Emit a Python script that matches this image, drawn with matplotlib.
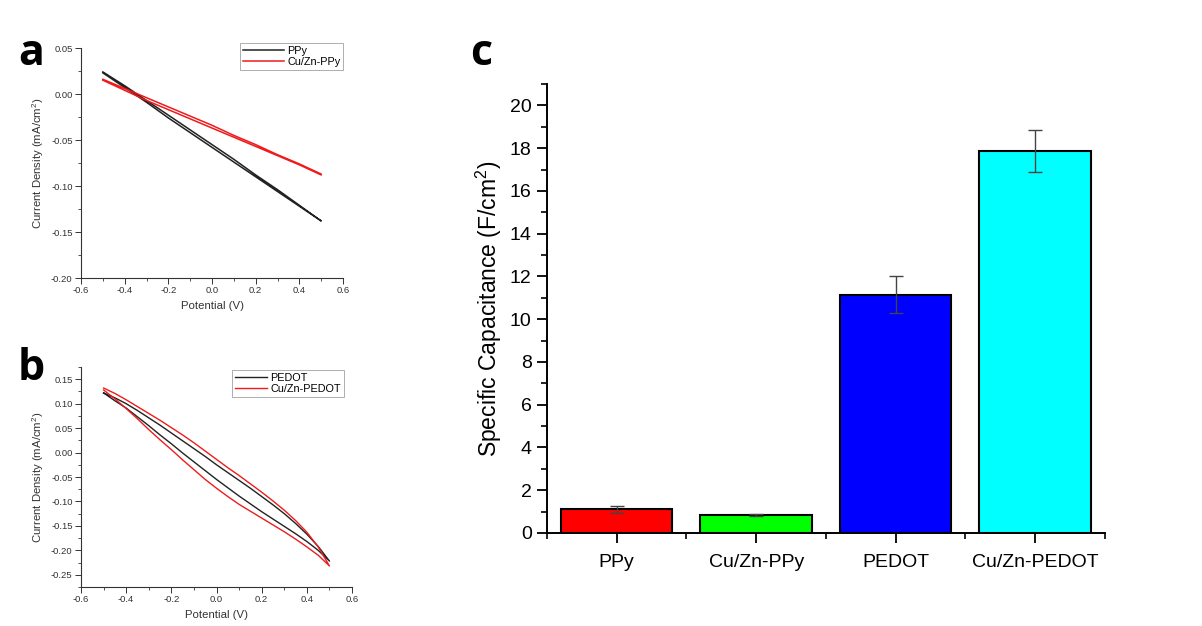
import matplotlib
matplotlib.use("Agg")
import matplotlib.pyplot as plt
from matplotlib.ticker import MultipleLocator, FixedLocator

plt.rcParams['font.family'] = ['Liberation Sans', 'DejaVu Sans']
plt.rcParams['mathtext.fontset'] = 'custom'
plt.rcParams['mathtext.rm'] = 'Liberation Sans'

# ---- data ----
potential_a = [-0.5, -0.4, -0.3, -0.2, -0.1, 0.0, 0.1, 0.2, 0.3, 0.4, 0.5]

# panel a (PPy films), two scan branches each
ppy_upper = [0.024, 0.009, -0.007, -0.023, -0.039, -0.055, -0.071, -0.088, -0.104, -0.121, -0.138]
ppy_lower = [0.023, 0.007, -0.009, -0.026, -0.042, -0.058, -0.074, -0.090, -0.106, -0.122, -0.138]
cuzn_ppy_upper = [0.016, 0.006, -0.004, -0.014, -0.024, -0.034, -0.045, -0.055, -0.066, -0.076, -0.087]
cuzn_ppy_lower = [0.015, 0.004, -0.007, -0.017, -0.027, -0.037, -0.047, -0.057, -0.067, -0.077, -0.088]

# panel b (PEDOT films), finer steps because the loops are curved
potential_b = [-0.5, -0.45, -0.4, -0.35, -0.3, -0.25, -0.2, -0.15, -0.1, -0.05, 0.0,
               0.05, 0.1, 0.15, 0.2, 0.25, 0.3, 0.35, 0.4, 0.45, 0.5]
pedot_upper = [0.122, 0.112, 0.100, 0.086, 0.071, 0.056, 0.040, 0.024, 0.008, -0.008, -0.025,
               -0.041, -0.057, -0.073, -0.090, -0.107, -0.125, -0.145, -0.167, -0.192, -0.222]
pedot_lower = [0.122, 0.106, 0.091, 0.073, 0.055, 0.036, 0.018, -0.001, -0.019, -0.037, -0.055,
               -0.072, -0.089, -0.105, -0.121, -0.136, -0.151, -0.166, -0.182, -0.200, -0.222]
cuzn_pedot_upper = [0.132, 0.121, 0.108, 0.094, 0.080, 0.066, 0.051, 0.036, 0.020, 0.003, -0.014,
                    -0.031, -0.047, -0.064, -0.081, -0.099, -0.118, -0.139, -0.163, -0.193, -0.232]
cuzn_pedot_lower = [0.128, 0.110, 0.090, 0.069, 0.047, 0.026, 0.006, -0.015, -0.035, -0.055, -0.073,
                    -0.090, -0.106, -0.120, -0.134, -0.148, -0.162, -0.177, -0.193, -0.210, -0.232]

# panel c (bar chart)
materials = ['PPy', 'Cu/Zn-PPy', 'PEDOT', 'Cu/Zn-PEDOT']
capacitance = [1.1, 0.85, 11.15, 17.87]
cap_err = [0.15, 0.05, 0.87, 1.0]
bar_colors = ['#ff0000', '#00ff00', '#0000ff', '#00ffff']


def loop(pot, upper, lower):
    # forward scan along the lower branch, back along the upper one
    xs = pot + pot[::-1]
    ys = lower + upper[::-1]
    return xs, ys


def style_cv(ax, ymin, ymax):
    for s in ['top', 'right']:
        ax.spines[s].set_visible(False)
    for s in ['left', 'bottom']:
        ax.spines[s].set_linewidth(0.8)
        ax.spines[s].set_color('#333333')
    ax.set_xlim(-0.6, 0.6)
    ax.set_ylim(ymin, ymax)
    ax.xaxis.set_major_locator(MultipleLocator(0.2))
    ax.xaxis.set_minor_locator(MultipleLocator(0.1))
    ax.yaxis.set_major_locator(MultipleLocator(0.05))
    ax.yaxis.set_minor_locator(MultipleLocator(0.025))
    ax.tick_params(which='major', direction='out', length=4, width=0.7, labelsize=6.8,
                   colors='#333333', pad=2)
    ax.tick_params(which='minor', direction='out', length=2, width=0.6, colors='#333333')
    ax.yaxis.set_major_formatter(plt.FormatStrFormatter('%.2f'))
    ax.xaxis.set_major_formatter(plt.FormatStrFormatter('%.1f'))
    ax.set_xlabel('Potential (V)', fontsize=8.2, color='#333333', labelpad=4)
    ax.set_ylabel('Current Density (mA/cm$^2$)', fontsize=8.2, color='#333333', labelpad=4)


def cv_legend(ax, x0, y0, hl):
    leg = ax.legend(loc='upper left', bbox_to_anchor=(x0 / 1202, 1 - y0 / 626),
                    bbox_transform=fig.transFigure, fontsize=7.8, frameon=True, fancybox=False,
                    handlelength=hl, handletextpad=0.3, borderpad=0.25, labelspacing=0.1,
                    borderaxespad=0)
    leg.get_frame().set_edgecolor('#999999')
    leg.get_frame().set_linewidth(0.7)


fig = plt.figure(figsize=(12.02, 6.26), dpi=100)

# ---- panel a ----
ax_a = fig.add_axes([0.0674, 0.5559, 0.218, 0.3674])
x, y = loop(potential_a, ppy_upper, ppy_lower)
ax_a.plot(x, y, color='#222222', lw=1.1, label='PPy')
x, y = loop(potential_a, cuzn_ppy_upper, cuzn_ppy_lower)
ax_a.plot(x, y, color='#ee1c1c', lw=1.1, label='Cu/Zn-PPy')
style_cv(ax_a, -0.2, 0.05)
cv_legend(ax_a, 240, 43, 3.8)

# ---- panel b ----
ax_b = fig.add_axes([0.0674, 0.0623, 0.2255, 0.3514])
x, y = loop(potential_b, pedot_upper, pedot_lower)
ax_b.plot(x, y, color='#222222', lw=1.0, label='PEDOT')
x, y = loop(potential_b, cuzn_pedot_upper, cuzn_pedot_lower)
ax_b.plot(x, y, color='#ee1c1c', lw=1.0, label='Cu/Zn-PEDOT')
style_cv(ax_b, -0.275, 0.175)
cv_legend(ax_b, 232, 370, 3.0)

# ---- panel c ----
ax_c = fig.add_axes([0.455, 0.1486, 0.4642, 0.7172])
pos = range(len(materials))
ax_c.bar(pos, capacitance, width=0.8, color=bar_colors, edgecolor='black', linewidth=1.5, zorder=2)
ax_c.errorbar(pos, capacitance, yerr=cap_err, fmt='none', ecolor='#444444', elinewidth=1.0,
              capsize=5, capthick=1.0, zorder=3)
for s in ['top', 'right']:
    ax_c.spines[s].set_visible(False)
for s in ['left', 'bottom']:
    ax_c.spines[s].set_linewidth(1.4)
ax_c.set_xlim(-0.5, 3.5)
ax_c.set_ylim(0, 21)
ax_c.yaxis.set_major_locator(MultipleLocator(2))
ax_c.yaxis.set_minor_locator(MultipleLocator(1))
ax_c.set_xticks(list(pos))
ax_c.set_xticklabels(materials)
ax_c.xaxis.set_minor_locator(FixedLocator([-0.5, 0.5, 1.5, 2.5, 3.5]))
ax_c.tick_params(which='major', direction='out', length=7, width=1.3, labelsize=14, pad=4)
ax_c.tick_params(which='minor', direction='out', length=4, width=1.2)
ax_c.tick_params(axis='x', which='major', pad=8)
ax_c.set_ylabel('Specific Capacitance (F/cm$^2$)', fontsize=16.5, labelpad=4)

# panel letters
letter_font = dict(fontsize=31, fontweight='bold', family=['Open Sans', 'DejaVu Sans'])
fig.text(18 / 1202, 1 - 65 / 626, 'a', **letter_font)
fig.text(18 / 1202, 1 - 380 / 626, 'b', **letter_font)
fig.text(470 / 1202, 1 - 65 / 626, 'c', **letter_font)

fig.savefig('out.png', dpi=100)
